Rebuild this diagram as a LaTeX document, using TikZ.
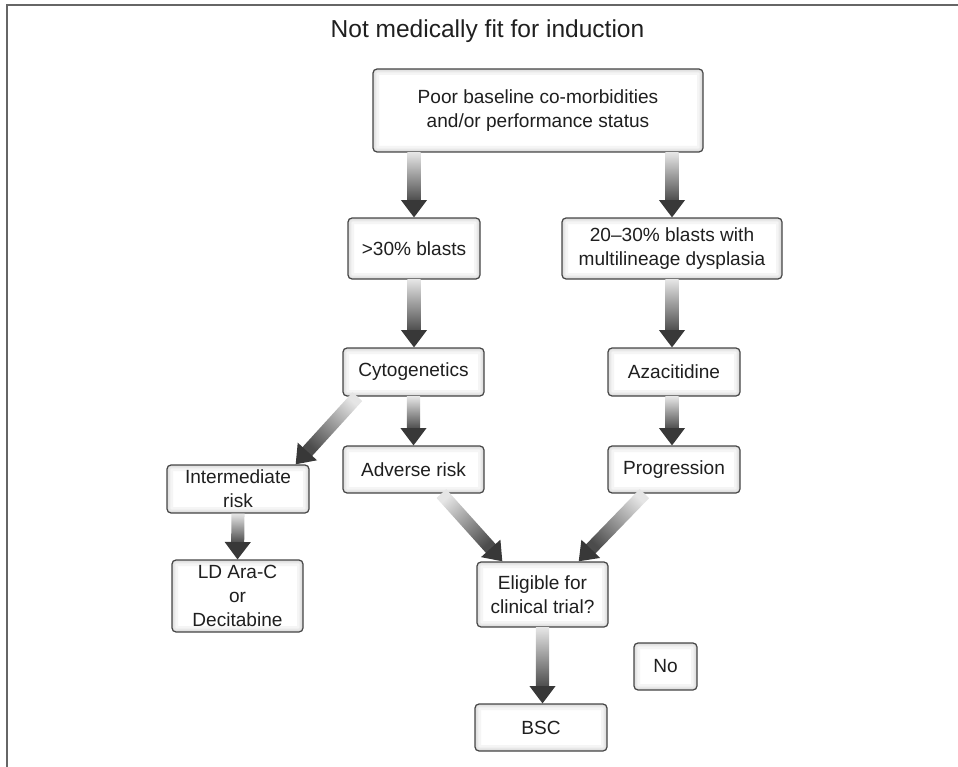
\documentclass[tikz,border=0pt]{standalone}
\usepackage{fontspec}
\setmainfont{Liberation Sans}
\usetikzlibrary{calc}
\tikzset{
  fbox/.style={draw=black!72, line width=0.9pt, rounded corners=3pt, fill=white,
    align=center, inner sep=0pt, text=black!88,
    font=\fontsize{14.3}{18}\selectfont,
    path picture={
      \draw[black!4, line width=9pt] (path picture bounding box.south west) rectangle (path picture bounding box.north east);
      \draw[black!9, line width=5pt] (path picture bounding box.south west) rectangle (path picture bounding box.north east);
      \draw[black!15, line width=2pt] (path picture bounding box.south west) rectangle (path picture bounding box.north east);
    }},
  bx/.style 2 args={minimum width=#1*0.75pt, minimum height=#2*0.75pt},
}
\newcommand\garrow[2]{%
  \coordinate (gaS) at (#1);
  \coordinate (gaE) at (#2);
  \path let \p1=($(gaE)-(gaS)$) in \pgfextra{%
    \pgfmathsetmacro\gaL{veclen(\x1,\y1)}%
    \pgfmathsetmacro\gaA{atan2(\y1,\x1)}%
    \pgfmathsetmacro\gaSA{\gaA+90}%
    \global\let\gaLg\gaL\global\let\gaAg\gaA\global\let\gaSAg\gaSA};
  \begin{scope}[shift={(gaS)}, rotate=\gaAg]
    \shade[top color=black!10, bottom color=black!70, shading angle=\gaSAg] (0pt,-4.9pt) rectangle ({\gaLg pt-12.5pt},4.9pt);
    \fill[black!78] ({\gaLg pt-13pt},-9.8pt) -- ({\gaLg pt},0pt) -- ({\gaLg pt-13pt},9.8pt) -- cycle;
  \end{scope}}
\begin{document}
\begin{tikzpicture}[x=0.75pt, y=-0.75pt]
\useasboundingbox (0,0) rectangle (958,767);
\draw[black!60, line width=1.2pt] (7,767) -- (7,5) -- (958,5);

\node[font=\fontsize{18.4}{22}\selectfont, anchor=base, text=black!88] (title) at (487.5,38) {Not medically fit for induction};

\node[fbox, bx={330}{83}] (box1) at (538,110.5) {Poor baseline co-morbidities\\and/or performance status};
\node[fbox, bx={132}{61}] (b30) at (414,248.5) {>30\% blasts};
\node[fbox, bx={220}{61}] (b2030) at (672,248.5) {20–30\% blasts with\\multilineage dysplasia};
\node[fbox, bx={141}{48}] (cyto) at (413.5,372) {Cytogenetics};
\node[fbox, bx={132}{48}] (aza) at (674,372) {Azacitidine};
\node[fbox, bx={141}{47}] (adv) at (413.5,469.5) {Adverse risk};
\node[fbox, bx={132}{47}] (prog) at (674,469.5) {Progression};
\node[fbox, bx={142}{48}] (inter) at (238,489) {Intermediate\\risk};
\node[fbox, bx={131}{72}] (ld) at (237.5,596) {LD Ara-C\\or\\Decitabine};
\node[fbox, bx={131}{65}] (elig) at (542.5,594.5) {Eligible for\\clinical trial?};
\node[fbox, bx={63}{47}] (no) at (665.5,666.5) {No};
\node[fbox, bx={132}{47}] (bsc) at (541,727.5) {BSC};

\garrow{box1.south -| b30.north}{b30.north}
\garrow{box1.south -| b2030.north}{b2030.north}
\garrow{b30.south}{cyto.north -| b30.south}
\garrow{b2030.south}{aza.north -| b2030.south}
\garrow{cyto.south}{adv.north}
\garrow{aza.south -| b2030.south}{prog.north -| b2030.south}
\garrow{$(cyto.south west)+(15,0)$}{$(inter.north east)+(-14,0)$}
\garrow{inter.south}{ld.north}
\garrow{$(adv.south west)+(99,0)$}{$(elig.north west)+(26,0)$}
\garrow{$(prog.south west)+(37,0)$}{$(elig.north east)+(-30,0)$}
\garrow{elig.south}{bsc.north -| elig.south}
\end{tikzpicture}
\end{document}
